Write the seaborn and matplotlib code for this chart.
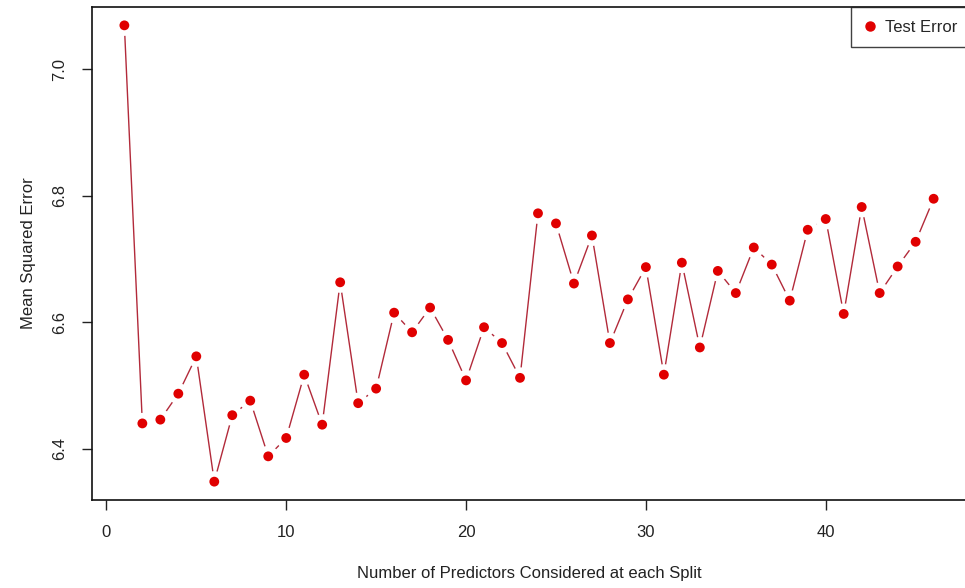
import matplotlib
matplotlib.use("Agg")
import matplotlib.pyplot as plt
import seaborn as sns
import pandas as pd

# Test MSE of random forests as a function of mtry
n_predictors = list(range(1, 47))
test_error = [
    7.069, 6.440, 6.446, 6.487, 6.546, 6.348, 6.453, 6.476, 6.388, 6.417,
    6.517, 6.438, 6.663, 6.472, 6.495, 6.615, 6.584, 6.623, 6.572, 6.508,
    6.592, 6.567, 6.512, 6.772, 6.756, 6.661, 6.737, 6.567, 6.636, 6.687,
    6.517, 6.694, 6.560, 6.681, 6.646, 6.718, 6.691, 6.634, 6.746, 6.763,
    6.613, 6.782, 6.646, 6.688, 6.727, 6.795,
]
x_ticks = [0, 10, 20, 30, 40]
y_ticks = [6.4, 6.6, 6.8, 7.0]

df = pd.DataFrame({"mtry": n_predictors, "mse": test_error})

sns.set_style("white")
plt.rcParams["font.family"] = ["Liberation Sans", "DejaVu Sans"]
FS = 12

fig = plt.figure(figsize=(9.65, 5.88), dpi=100)
W, H = 965, 588
ax = fig.add_axes([92 / W, 1 - 500 / H, (966 - 92) / W, (500 - 7) / H])

# connecting line, broken around each point (R type = "b" look)
sns.lineplot(data=df, x="mtry", y="mse", ax=ax, color="#b22a3a", linewidth=1.0, zorder=1)
ax.scatter(df["mtry"], df["mse"], s=230, color="white", edgecolor="none", zorder=2)
ax.scatter(df["mtry"], df["mse"], s=50, color="#e00000", edgecolor="none", zorder=3)

ax.set_xlim(-0.8, 47.8)
ax.set_ylim(6.319, 7.098)
ax.set_xticks(x_ticks)
ax.set_yticks(y_ticks)
ax.set_xticklabels([str(t) for t in x_ticks], fontsize=FS, color="#222222")
ax.set_yticklabels([f"{t:.1f}" for t in y_ticks], fontsize=FS, color="#222222",
                   rotation=90, va="center")
ax.tick_params(axis="both", direction="out", length=7.2, width=1, color="#222222",
               pad=10.5, left=True, bottom=True)

for s in ax.spines.values():
    s.set_color("#111111")
    s.set_linewidth(1.2)
    s.set_visible(True)

ax.set_xlabel("Number of Predictors Considered at each Split", fontsize=FS,
              color="#222222", labelpad=19)
ax.set_ylabel("Mean Squared Error", fontsize=FS, color="#222222", labelpad=12)

# legend box in the top-right corner
leg_handle = plt.Line2D([], [], marker="o", linestyle="none", color="#e00000",
                        markersize=6.5)
leg = ax.legend([leg_handle], ["Test Error"], loc="upper right",
                bbox_to_anchor=(1.005, 1.0), fontsize=FS, frameon=True,
                fancybox=False, borderaxespad=0, handlelength=0.8,
                handletextpad=0.5, borderpad=0.75)
leg.get_frame().set_edgecolor("#111111")
leg.get_frame().set_linewidth(1.0)

fig.savefig("out.png", dpi=100, facecolor="white")
